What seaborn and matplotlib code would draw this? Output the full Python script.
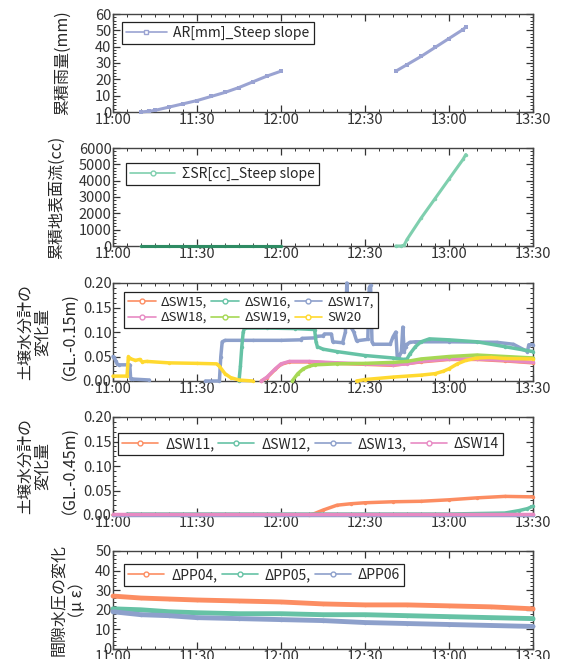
import numpy as np
import pandas as pd
import matplotlib
matplotlib.use("Agg")
import matplotlib.pyplot as plt
from matplotlib.lines import Line2D
from matplotlib.ticker import AutoMinorLocator, MultipleLocator, FormatStrFormatter
import seaborn as sns

sns.set_style("ticks")
plt.rcParams['font.family'] = ['Noto Sans CJK JP', 'DejaVu Sans']

# ---------------- data (time = minutes after 11:00) ----------------
tick_pos = [0, 30, 60, 90, 120, 150]
tick_labels = ["11:00", "11:30", "12:00", "12:30", "13:00", "13:30"]

# Panel 1: cumulative rainfall
ar_t1 = [10, 13, 15, 20, 25, 30, 35, 40, 45, 50, 55, 60]
ar_v1 = [0, 0.5, 1, 3, 5, 7, 9.5, 12, 15, 18.5, 22, 25]
ar_t2 = [101, 105, 110, 115, 120, 125, 126]
ar_v2 = [25, 29, 34, 39.5, 45, 50.5, 52]

# Panel 2: cumulative surface runoff
sr_t1 = [10, 15, 20, 25, 30, 35, 40, 45, 50, 55, 60]
sr_v1 = [0, 0, 0, 0, 0, 0, 0, 0, 0, 0, 0]
sr_t2 = [101, 103, 104, 105, 110, 115, 120, 125, 126]
sr_v2 = [0, 0, 60, 400, 1700, 2900, 4100, 5300, 5600]

# Panel 3: soil moisture change GL-0.15m
sw15_t = [53, 55, 58, 60, 63, 70, 80, 90, 100, 110, 120, 130, 140, 150]
sw15_v = [0, 0.007, 0.024, 0.034, 0.039, 0.039, 0.036, 0.034, 0.032, 0.039, 0.044, 0.044, 0.041, 0.037]

sw16_t = [45, 45.5, 46, 46.5, 47, 55, 65, 72, 72.5, 73, 75, 80, 90, 100, 104, 105, 106, 108, 110, 113, 120, 130, 140, 150]
sw16_v = [0, 0.03, 0.07, 0.1, 0.108, 0.108, 0.107, 0.105, 0.08, 0.07, 0.065, 0.06, 0.052, 0.047, 0.044, 0.045, 0.055, 0.07, 0.08, 0.086, 0.084, 0.08, 0.07, 0.06]

sw17_ta = [0, 0.5, 1, 1.5, 2, 6, 6.3, 7, 13]
sw17_va = [0.05, 0.048, 0.04, 0.035, 0.033, 0.033, 0.005, 0.004, 0.002]
sw17_tb = [33, 38, 38.5, 39, 40, 50, 60, 67, 67.5, 72, 72.5, 75, 75.5, 78, 78.5, 82, 83, 83.5, 84, 85, 86, 87,
           91, 91.5, 92, 92.5, 93, 99, 100, 101, 101.5, 102, 103, 103.5, 104, 104.5, 105, 106, 108,
           120, 137, 143, 146, 148, 148.5, 150]
sw17_vb = [0, 0, 0.05, 0.08, 0.083, 0.083, 0.083, 0.084, 0.087, 0.088, 0.091, 0.092, 0.096, 0.096, 0.08, 0.078, 0.1, 0.2, 0.12, 0.11, 0.1, 0.082,
           0.085, 0.19, 0.195, 0.08, 0.075, 0.075, 0.09, 0.1, 0.05, 0.047, 0.06, 0.11, 0.06, 0.07, 0.075, 0.079, 0.08,
           0.08, 0.079, 0.075, 0.066, 0.06, 0.074, 0.074]

sw18_t = [53, 55, 58, 60, 63, 70, 80, 90, 100, 105, 110, 120, 130, 140, 150]
sw18_v = [0, 0.008, 0.025, 0.035, 0.04, 0.04, 0.037, 0.035, 0.033, 0.035, 0.04, 0.045, 0.045, 0.042, 0.038]

sw19_t = [64, 66, 68, 70, 72, 80, 90, 100, 105, 110, 120, 130, 140, 150]
sw19_v = [0, 0.015, 0.025, 0.03, 0.033, 0.035, 0.036, 0.038, 0.04, 0.045, 0.05, 0.053, 0.05, 0.047]

sw20_ta = [0, 5, 5.5, 6, 8, 9.5, 10.5, 12, 20, 30, 37, 38, 40, 42, 45, 50]
sw20_va = [0.01, 0.01, 0.05, 0.046, 0.042, 0.044, 0.039, 0.04, 0.037, 0.036, 0.035, 0.03, 0.015, 0.007, 0.002, 0]
sw20_tb = [87, 90, 100, 110, 115, 118, 120, 123, 126, 130, 135, 140, 150]
sw20_vb = [0, 0.003, 0.008, 0.012, 0.015, 0.02, 0.025, 0.035, 0.042, 0.047, 0.048, 0.046, 0.045]

# Panel 4: soil moisture change GL-0.45m
sw11_t = [0, 70, 72, 75, 80, 85, 90, 100, 110, 120, 130, 140, 150]
sw11_v = [0, 0, 0.003, 0.01, 0.02, 0.023, 0.025, 0.027, 0.028, 0.031, 0.035, 0.038, 0.037]
sw12_t = [5, 60, 120, 140, 145, 148, 150]
sw12_v = [0.002, 0.002, 0.002, 0.004, 0.009, 0.013, 0.018]
sw13_t = [0, 150]
sw13_v = [0, 0]
sw14_t = [0, 40, 80, 120, 150]
sw14_v = [0.002, 0.002, 0.002, 0.002, 0.002]

# Panel 5: pore water pressure change
pp04_t = [0, 10, 20, 30, 45, 60, 75, 90, 105, 120, 135, 150]
pp04_v = [27, 26, 25.5, 25, 24.5, 24, 23, 22.5, 22.5, 22, 21.5, 20.5]
pp05_t = [0, 10, 20, 30, 45, 60, 75, 90, 105, 120, 135, 150]
pp05_v = [20.5, 20, 19, 18.5, 18, 18, 17.5, 17.5, 17, 16.5, 16, 15.5]
pp06_t = [0, 10, 20, 30, 45, 60, 75, 90, 105, 120, 135, 150]
pp06_v = [19, 17.5, 17, 16, 15.5, 15, 14.5, 13.5, 13, 12.5, 12, 11.5]

# ---------------- colours (Set2) ----------------
s2 = sns.color_palette("Set2", 6)
c_green, c_orange, c_blue, c_pink, c_lime, c_yellow = s2


def frame(series):
    rows = []
    for name, seg, t, v in series:
        for ti, vi in zip(t, v):
            rows.append((name, seg, ti, vi))
    return pd.DataFrame(rows, columns=["series", "seg", "t", "v"])


W, H = 563, 659
fig = plt.figure(figsize=(W / 100, H / 100), dpi=100)
left = 113 / W
width = 420 / W
ph = 98 / H
bottoms_px = [112, 246, 381, 515, 649]
axes = [fig.add_axes([left, 1 - b / H, width, ph]) for b in bottoms_px]


def style(ax, ylim, ymajor, fmt=None):
    ax.set_xlim(0, 150)
    ax.set_ylim(*ylim)
    ax.set_xticks(tick_pos)
    ax.set_xticklabels(tick_labels)
    ax.xaxis.set_minor_locator(MultipleLocator(5))
    ax.yaxis.set_major_locator(MultipleLocator(ymajor))
    ax.yaxis.set_minor_locator(AutoMinorLocator(5))
    if fmt:
        ax.yaxis.set_major_formatter(FormatStrFormatter(fmt))
    ax.tick_params(which="both", direction="in", top=True, right=True, labelsize=10.5,
                   colors="#333333", pad=1)
    ax.tick_params(which="major", length=5, width=0.9)
    ax.tick_params(which="minor", length=2.5, width=0.7)
    for sp in ax.spines.values():
        sp.set_color("#444444")
        sp.set_linewidth(1.0)
    ax.set_xlabel("")


def draw(ax, series, palette, lw=2.5, ms=3, marker="o"):
    df = frame(series)
    sns.lineplot(data=df, x="t", y="v", hue="series", units="seg", estimator=None,
                 palette=palette, ax=ax, legend=False, sort=False, lw=lw,
                 marker=marker, markersize=ms, markeredgewidth=0, clip_on=False, zorder=3)


def legend(ax, names, colors, ncol, marker="o", **kw):
    hs = [Line2D([0], [0], color=c, lw=1.2, marker=marker, markersize=3.5,
                 markerfacecolor="white", markeredgecolor=c) for c in colors]
    # order so that rows read left-to-right (matplotlib fills columns first)
    if ncol > 1 and len(names) > ncol:
        nrow = int(np.ceil(len(names) / ncol))
        idx = [r * ncol + c for c in range(ncol) for r in range(nrow) if r * ncol + c < len(names)]
        hs = [hs[i] for i in idx]
        names = [names[i] for i in idx]
    lg = ax.legend(hs, names, ncol=ncol, loc="upper left", frameon=True, fancybox=False,
                   edgecolor="#222222", framealpha=1, borderpad=0.3, labelspacing=0.2,
                   borderaxespad=0.35, **kw)
    lg.get_frame().set_linewidth(0.9)
    lg.set_zorder(5)
    return lg


# Panel 1
ax = axes[0]
draw(ax, [("AR", 1, ar_t1, ar_v1), ("AR", 2, ar_t2, ar_v2)], {"AR": "#9aa3d2"}, lw=2.2, ms=2.5, marker="s")
style(ax, (0, 60), 10)
legend(ax, ["AR[mm]_Steep slope"], ["#9aa3d2"], 1, marker="s", fontsize=10,
       handlelength=2.9, handletextpad=0.5, bbox_to_anchor=(0.01, 0.97))
ax.set_ylabel("累積雨量(mm)", fontsize=11.5)

# Panel 2
ax = axes[1]
draw(ax, [("SR", 1, sr_t1, sr_v1), ("SR", 2, sr_t2, sr_v2)], {"SR": "#7fcfae"}, lw=2.2, ms=2.5)
ax.plot(sr_t1, sr_v1, color="#2e8b63", lw=2.2, clip_on=False, zorder=4)
style(ax, (0, 6000), 1000)
legend(ax, ["ΣSR[cc]_Steep slope"], ["#7fcfae"], 1, fontsize=10,
       handlelength=3.2, handletextpad=0.5, bbox_to_anchor=(0.02, 0.9))
ax.set_ylabel("累積地表面流(cc)", fontsize=11.5)

# Panel 3
ax = axes[2]
pal3 = {"SW15": c_orange, "SW16": c_green, "SW17": c_blue, "SW18": c_pink, "SW19": c_lime, "SW20": c_yellow}
draw(ax, [("SW15", 1, sw15_t, sw15_v), ("SW17", 1, sw17_ta, sw17_va), ("SW17", 2, sw17_tb, sw17_vb),
          ("SW16", 1, sw16_t, sw16_v), ("SW18", 1, sw18_t, sw18_v), ("SW19", 1, sw19_t, sw19_v),
          ("SW20", 1, sw20_ta, sw20_va), ("SW20", 2, sw20_tb, sw20_vb)], pal3, lw=2.5, ms=2.5)
style(ax, (0, 0.2), 0.05, "%.2f")
legend(ax, ["ΔSW15,", "ΔSW16,", "ΔSW17,", "ΔSW18,", "ΔSW19,", "SW20"],
       [c_orange, c_green, c_blue, c_pink, c_lime, c_yellow], 3, fontsize=9.5,
       handlelength=2.1, handletextpad=0.4, columnspacing=0.3, bbox_to_anchor=(0.015, 0.96))
ax.set_ylabel("土壌水分計の\n変化量\n（GL.-0.15m)", fontsize=11.5, linespacing=1.05)

# Panel 4
ax = axes[3]
pal4 = {"SW11": c_orange, "SW12": c_green, "SW13": c_blue, "SW14": c_pink}
draw(ax, [("SW11", 1, sw11_t, sw11_v), ("SW12", 1, sw12_t, sw12_v),
          ("SW13", 1, sw13_t, sw13_v), ("SW14", 1, sw14_t, sw14_v)], pal4, lw=2.5, ms=2.5)
style(ax, (0, 0.2), 0.05, "%.2f")
legend(ax, ["ΔSW11,", "ΔSW12,", "ΔSW13,", "ΔSW14"], [c_orange, c_green, c_blue, c_pink], 4,
       fontsize=10, handlelength=2.6, handletextpad=0.5, columnspacing=0.3,
       bbox_to_anchor=(0.0, 0.89))
ax.set_ylabel("土壌水分計の\n変化量\n（GL.-0.45m)", fontsize=11.5, linespacing=1.05)

# Panel 5
ax = axes[4]
pal5 = {"PP04": c_orange, "PP05": c_green, "PP06": c_blue}
draw(ax, [("PP04", 1, pp04_t, pp04_v), ("PP05", 1, pp05_t, pp05_v), ("PP06", 1, pp06_t, pp06_v)],
     pal5, lw=3.5, ms=2.5)
style(ax, (0, 50), 10)
legend(ax, ["ΔPP04,", "ΔPP05,", "ΔPP06"], [c_orange, c_green, c_blue], 3, fontsize=10,
       handlelength=2.6, handletextpad=0.5, columnspacing=0.3, bbox_to_anchor=(0.015, 0.92))
ax.set_ylabel("間隙水圧の変化\n（μ ε）", fontsize=11.5, linespacing=1.1)

axes[0].yaxis.set_label_coords(-0.10, 0.5)
axes[1].yaxis.set_label_coords(-0.115, 0.5)
axes[2].yaxis.set_label_coords(-0.105, 0.5)
axes[3].yaxis.set_label_coords(-0.105, 0.5)
axes[4].yaxis.set_label_coords(-0.065, 0.5)

fig.savefig("out.png", dpi=100)
